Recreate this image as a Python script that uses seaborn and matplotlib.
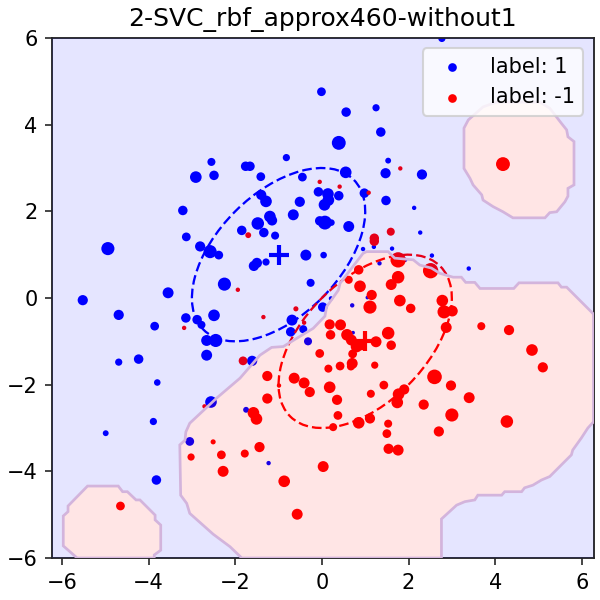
import numpy as np
import matplotlib
matplotlib.use("Agg")
import matplotlib.pyplot as plt
import seaborn as sns
from matplotlib.patches import Ellipse, PathPatch, Polygon
from matplotlib.path import Path

title = "2-SVC_rbf_approx460-without1"
xlim = (-6.23, 6.27)
ylim = (-6, 6)
ticks = [-6, -4, -2, 0, 2, 4, 6]

blue_x = [-0.01,-0.82,-2.55,-2.91,-2.49,-1.76,-1.66,-1.41,-0.45,-0.08,-1.40,-1.29,-0.51,-3.21,-1.20,-1.15,-0.66,-1.48,-1.85,-1.34,-1.08,-3.13,-2.81,-2.58,-2.38,-4.94,-0.37,0.04,-1.50,-1.57,-1.29,-0.26,-2.25,-3.55,-5.52,
          2.77,0.56,1.25,1.36,0.39,1.53,1.47,2.31,0.55,0.98,1.48,2.13,2.27,0.39,0.14,0.15,0.06,0.07,-0.05,0.22,0.62,0.95,1.20,1.62,1.33,2.54,3.39,1.92,0.21,1.05,
          -4.69,-3.86,-3.14,-2.88,-2.78,-2.49,-2.66,-2.45,-2.66,-4.69,-4.23,-3.80,-0.69,-0.72,-0.43,0.02,-0.32,-1.61,-2.56,-1.75,-3.89,-4.99,-3.05,-1.23,-3.82,0.70,0.72]
blue_y = [4.76,3.24,3.14,2.79,2.83,3.04,3.04,2.80,2.79,2.45,2.38,2.23,2.22,2.02,1.88,1.79,1.92,1.72,1.56,1.51,1.44,1.41,1.19,1.07,0.99,1.14,0.99,0.99,0.81,0.74,0.83,0.35,0.32,0.12,-0.05,
          5.99,4.29,4.39,3.83,3.58,3.17,2.88,2.85,2.90,2.42,2.25,2.08,1.51,2.36,2.40,2.26,2.15,1.74,1.78,1.74,1.65,1.13,1.18,1.14,0.80,0.98,0.68,0.88,-0.01,0.01,
          -0.39,-0.65,-0.46,-0.50,-0.62,-0.40,-0.98,-0.98,-1.32,-1.48,-1.41,-1.95,-0.51,-0.78,-0.72,-0.21,-1.00,-1.45,-2.40,-2.58,-2.85,-3.12,-3.31,-3.81,-4.20,-0.17,-0.80]
blue_s = [14.7,10,12.4,26,17.3,17.3,17.3,14.7,14.7,17.3,20,26,20,17.3,26,20,23,30,17.3,17.3,12.4,14.7,20,33,14.7,33,23,8.3,20,20,10,12.4,33,23,20,
          10,17.3,10,17.3,37,6.6,20,20,26,17.3,17.3,3.7,3.7,17.3,26,26,26,37,17.3,8.3,23,3.7,3.7,3.7,3.7,3.7,3.7,3.7,3.7,2.6,
          20,14.7,17.3,17.3,12.4,26,23,33,23,10,17.3,8.3,23,17.3,12.4,17.3,12.4,20,26,6.6,10,6.6,14.7,3.7,17.3,3.7,2.6]

red_x = [-0.05,-1.70,-1.94,0.41,1.08,1.81,4.18,1.59,1.21,1.21,1.76,2.51,1.76,1.60,0.85,0.62,0.88,1.15,1.80,2.78,1.11,2.05,2.82,3.01,2.87,3.68,4.32,4.85,5.10,
         0.18,0.43,0.20,0.58,0.68,0.80,0.91,1.53,1.25,1.60,0.71,-0.05,0.70,0.67,0.15,0.42,1.22,2.60,2.98,3.40,1.43,0.18,1.13,1.90,1.77,1.74,2.35,0.35,3.00,4.27,0.37,1.11,0.85,0.26,1.53,1.50,2.70,1.54,1.76,0.03,
         -0.60,-1.35,-3.18,-0.41,-1.82,-1.26,-0.64,-0.41,-0.28,-0.99,-1.26,-2.71,-1.58,-1.51,-2.51,-2.32,-3.02,-1.78,-1.44,-2.28,-0.87,-0.57,-4.65]
red_y = [2.68,1.45,0.19,2.57,2.43,2.99,3.09,1.53,1.38,1.31,0.88,0.63,0.48,0.31,0.65,0.42,0.27,0.07,-0.06,-0.06,-0.21,-0.24,-0.32,-0.30,-0.68,-0.65,-0.74,-1.20,-1.60,
         -0.61,-0.62,-0.85,-0.85,-0.97,-1.12,-1.08,-0.81,-1.01,-1.09,-1.29,-1.28,-1.51,-1.58,-1.63,-1.57,-1.55,-1.82,-2.02,-2.30,-2.01,-2.06,-2.21,-2.11,-2.22,-2.41,-2.46,-2.35,-2.70,-2.85,-2.71,-2.78,-2.88,-2.98,-2.90,-3.13,-3.08,-3.48,-3.51,-3.89,
         -0.25,-0.44,-0.69,-0.57,-1.45,-1.80,-1.85,-1.96,-2.17,-2.02,-2.32,-2.50,-2.65,-2.79,-3.32,-3.62,-3.67,-3.59,-3.44,-4.00,-4.23,-4.99,-4.80]
red_s = [3.7,6.6,3.7,3.7,3.7,3.7,37,12.4,17,17,45,45,30,23,17.3,12.4,26,20,26,26,33,17.3,33,23,23,12.4,20,26,20,
         20,23,17.3,26,23,26,23,30,23,17.3,14.7,14.7,23,12.4,12.4,14.7,10,41,20,23,14.7,26,12.4,20,26,26,20,20,33,30,14.7,20,26,12.4,12.4,14.7,20,20,23,23,
         5,3.7,3.7,3.7,14.7,20,23,23,20,3.7,20,3.7,26,26,5,14.7,10,12.4,20,23,26,23,14.7]

region_main_x = [-1.85,-2.12,-2.51,-3.05,-3.12,-3.26,-3.28,-3.16,-3.14,-3.05,-2.43,-1.89,-1.43,-1.16,-0.89,-0.58,-0.20,0.07,0.11,0.38,0.42,0.95,1.03,1.53,1.68,2.11,2.26,2.53,2.72,3.03,3.22,3.32,3.53,3.65,4.43,4.55,5.45,5.53,5.65,6.27,
                 6.27,6.14,5.99,5.79,5.76,5.26,5.07,4.87,4.68,4.61,4.22,4.15,3.60,3.53,3.30,3.11,2.76,2.76]
region_main_y = [-6,-5.74,-5.45,-4.97,-4.74,-4.55,-3.39,-3.28,-3.09,-2.89,-2.31,-1.85,-1.32,-1.14,-1.12,-0.93,-0.70,-0.42,-0.20,0.18,0.34,1.03,1.07,1.07,0.92,0.88,0.76,0.69,0.57,0.48,0.48,0.36,0.36,0.22,0.22,0.35,0.35,0.25,0.25,-0.37,
                 -2.86,-3.0,-3.23,-3.51,-3.62,-4.12,-4.20,-4.32,-4.38,-4.47,-4.47,-4.55,-4.55,-4.66,-4.70,-4.78,-5.10,-6]
region_top_x = [3.28,3.28,3.42,3.49,3.69,3.72,3.95,4.18,4.41,5.15,5.26,5.42,5.61,5.68,5.68,5.82,5.82,5.68,5.65,5.53,5.26,5.03,4.03,3.72,3.38]
region_top_y = [3.92,2.99,2.76,2.61,2.38,2.26,2.11,1.99,1.85,1.85,1.97,1.99,2.22,2.35,2.53,2.61,3.61,3.72,3.88,4.03,4.38,4.52,4.52,4.41,4.11]
region_low_x = [-5.97,-5.97,-5.86,-5.86,-5.41,-4.70,-4.60,-4.49,-4.29,-4.20,-3.85,-3.85,-3.72,-3.72,-3.87,-3.87,-5.65]
region_low_y = [-5.72,-5.03,-4.93,-4.80,-4.34,-4.34,-4.47,-4.47,-4.66,-4.66,-5.01,-5.12,-5.24,-5.82,-5.93,-6,-6]

mean_blue = [-1, 1]
mean_red = [1, -1]
cov = [[1.0, 0.5], [0.5, 1.0]]
n_sigma = 2

sns.set_style("ticks")
plt.rcParams["font.family"] = ["DejaVu Sans"]
plt.rcParams["text.color"] = "black"
plt.rcParams["xtick.labelcolor"] = "black"
plt.rcParams["ytick.labelcolor"] = "black"

fig, ax = plt.subplots(figsize=(4, 4), dpi=150)
fig.subplots_adjust(left=52/600, right=593.5/600, top=1-38/600, bottom=1-558/600)

sns.scatterplot(x=blue_x, y=blue_y, s=1.2*np.array(blue_s), color="#0000ff", linewidth=0,
                label="label: 1", legend=False, ax=ax, zorder=1)
sns.scatterplot(x=red_x, y=red_y, s=1.2*np.array(red_s), color="#ff0000", linewidth=0,
                label="label: -1", legend=False, ax=ax, zorder=1)

vals, vecs = np.linalg.eigh(np.array(cov))
angle = np.degrees(np.arctan2(vecs[1, 1], vecs[0, 1]))
for mean, col in ((mean_blue, "#0000ff"), (mean_red, "#ff0000")):
    ax.add_patch(Ellipse(mean, 2*n_sigma*np.sqrt(vals[1]), 2*n_sigma*np.sqrt(vals[0]), angle=angle,
                         fill=False, edgecolor=col, linestyle=(0, (4.2, 1.8)), linewidth=1.1, zorder=2))
    ax.plot(mean[0], mean[1], marker="+", color=col, markersize=10, markeredgewidth=2, zorder=2)

ax.set_xlim(*xlim)
ax.set_ylim(*ylim)
ax.set_xticks(ticks)
ax.set_yticks(ticks)
ax.tick_params(labelsize=10, width=0.8, length=3.5, color=".15")
for sp in ax.spines.values():
    sp.set_visible(True)
    sp.set_color(".15")
    sp.set_linewidth(0.9)


def ring(xs, ys, ccw):
    pts = np.column_stack([xs, ys])
    area = 0.5*np.sum(pts[:, 0]*np.roll(pts[:, 1], -1) - np.roll(pts[:, 0], -1)*pts[:, 1])
    if (area > 0) != ccw:
        pts = pts[::-1]
    return pts


regions = [(region_main_x, region_main_y), (region_top_x, region_top_y), (region_low_x, region_low_y)]
verts, codes = [], []
box_x = [xlim[0], xlim[1], xlim[1], xlim[0]]
box_y = [ylim[0], ylim[0], ylim[1], ylim[1]]
for xs, ys, ccw in [(box_x, box_y, True)] + [(a, b, False) for a, b in regions]:
    pts = ring(xs, ys, ccw)
    verts += list(pts) + [pts[0]]
    codes += [Path.MOVETO] + [Path.LINETO]*(len(pts)-1) + [Path.CLOSEPOLY]
ax.add_patch(PathPatch(Path(verts, codes), facecolor="#0000ff", edgecolor="none", alpha=0.1, zorder=3))
for xs, ys in regions:
    pts = np.column_stack([xs, ys])
    ax.add_patch(Polygon(pts, closed=True, facecolor="#ff0000", edgecolor="none", alpha=0.1, zorder=3))
    ax.add_patch(Polygon(pts, closed=True, fill=False, edgecolor="#d3b4dc", linewidth=1.3, zorder=3.5))

ax.set_title(title, fontsize=12)
leg = ax.legend(loc="upper right", fontsize=10)
for handle in leg.legend_handles:
    handle.set_sizes([17.3])
fig.savefig("out.png", dpi=150)
